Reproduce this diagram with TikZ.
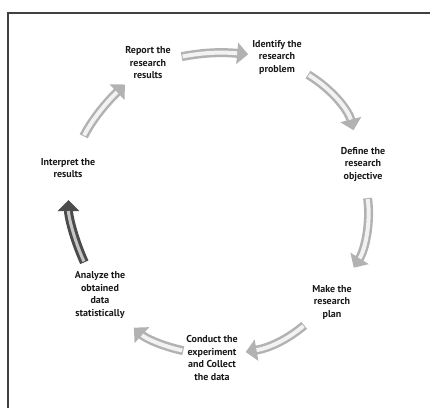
\documentclass[tikz,border=0pt]{standalone}
\usepackage{fontspec}
\setmainfont{PT Sans}
\usetikzlibrary{arrows.meta}
\begin{document}
\begin{tikzpicture}[x=1pt,y=-1pt,
  lbl/.style={font=\bfseries\fontsize{10}{12.5}\selectfont, align=center, text=black!90, inner sep=1pt},
  ribout/.style={line width=9pt, draw=gray!60, -{Triangle[width=21pt,length=11pt]}},
  ribin/.style={line width=4pt, draw=gray!10},
  darkout/.style={line width=9pt, draw=black!70, -{Triangle[width=21pt,length=11pt]}},
  darkin/.style={line width=3pt, draw=gray!45}]
\useasboundingbox (0,0) rectangle (430,408);
\draw[line width=1.8pt, black!75] (8,408) -- (8,13) -- (430,13);

\node[lbl] (rep) at (148,63) {Report the\\research\\results};
\node[lbl] (ide) at (277,57) {Identify the\\research\\problem};
\node[lbl] (def) at (363,164) {Define the\\research\\objective};
\node[lbl] (mak) at (332,302) {Make the\\research\\plan};
\node[lbl] (con) at (212,358) {Conduct the\\experiment\\and Collect\\the data};
\node[lbl] (ana) at (100,295) {Analyze the\\obtained\\data\\statistically};
\node[lbl] (int) at (68,168) {Interpret the\\results};

% arrows: outer ribbon with head, then light inner strip
\draw[ribout, shorten <=10pt, shorten >=3pt] (rep) to[bend left=8] (ide);
\draw[ribin, shorten <=11pt, shorten >=14pt] (rep) to[bend left=8] (ide);

\draw[ribout, shorten <=6pt, shorten >=16pt] (ide) to[bend left=22] (def);
\draw[ribin, shorten <=7pt, shorten >=27pt] (ide) to[bend left=22] (def);

\draw[ribout, shorten <=16pt, shorten >=19pt] (def) to[bend left=20] (mak);
\draw[ribin, shorten <=17pt, shorten >=30pt] (def) to[bend left=20] (mak);

\draw[ribout, shorten <=9pt, shorten >=7pt] (mak) to[bend left=15] (con);
\draw[ribin, shorten <=10pt, shorten >=18pt] (mak) to[bend left=15] (con);

\draw[ribout, shorten <=2pt, shorten >=12pt] (con) to[bend left=15] (ana);
\draw[ribin, shorten <=3pt, shorten >=23pt] (con) to[bend left=15] (ana);

\draw[darkout, shorten <=9pt, shorten >=21pt] (ana) to[bend left=12] (int);
\draw[darkin, shorten <=10pt, shorten >=32pt] (ana) to[bend left=12] (int);

\draw[ribout, shorten <=23pt, shorten >=6pt] (int) to[bend left=10] (rep);
\draw[ribin, shorten <=24pt, shorten >=17pt] (int) to[bend left=10] (rep);
\end{tikzpicture}
\end{document}
